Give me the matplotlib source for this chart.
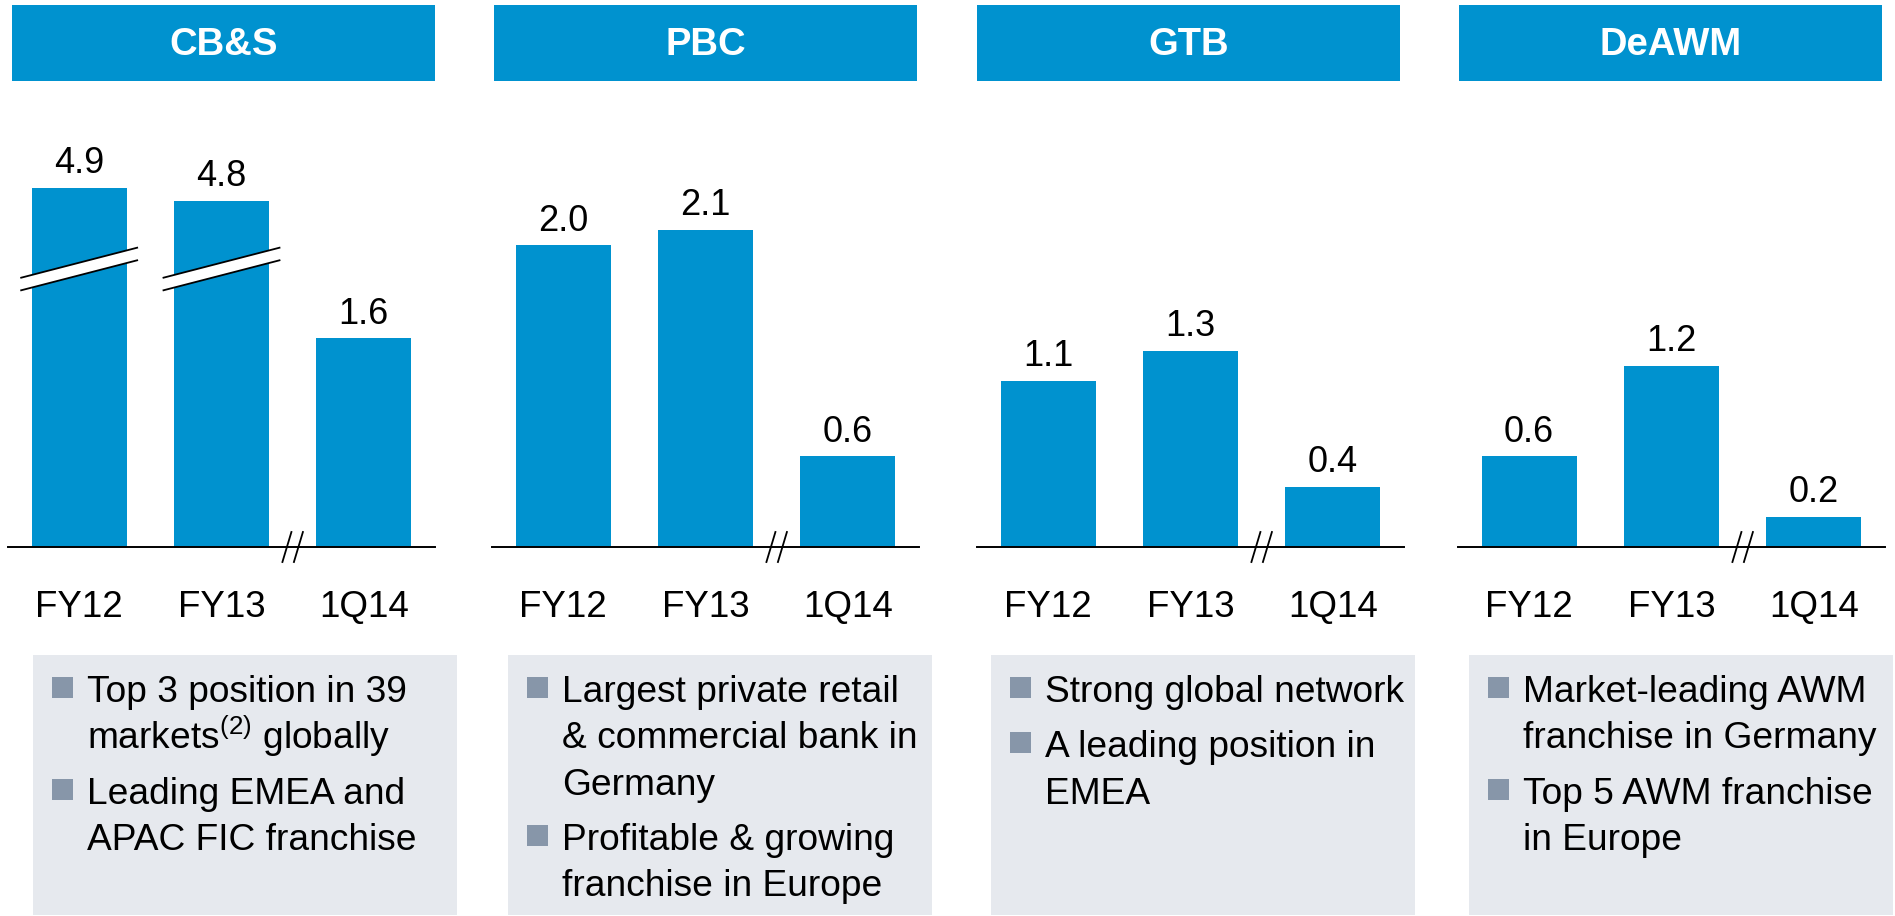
import numpy as np
import matplotlib
matplotlib.use("Agg")
import matplotlib.pyplot as plt
from matplotlib.patches import Rectangle, Polygon

plt.rcParams['font.family'] = ['Liberation Sans', 'DejaVu Sans']
plt.rcParams['mathtext.default'] = 'regular'

W, H, DPI = 1895, 916, 100

# data
segments = ['CB&S', 'PBC', 'GTB', 'DeAWM']
periods = ['FY12', 'FY13', '1Q14']
cbs = [4.9, 4.8, 1.6]
pbc = [2.0, 2.1, 0.6]
gtb = [1.1, 1.3, 0.4]
deawm = [0.6, 1.2, 0.2]
values = [cbs, pbc, gtb, deawm]

cbs_notes = [["Top 3 position in 39", "markets$^{(2)}$ globally"],
             ["Leading EMEA and", "APAC FIC franchise"]]
pbc_notes = [["Largest private retail", "& commercial bank in", "Germany"],
             ["Profitable & growing", "franchise in Europe"]]
gtb_notes = [["Strong global network"],
             ["A leading position in", "EMEA"]]
deawm_notes = [["Market-leading AWM", "franchise in Germany"],
               ["Top 5 AWM franchise", "in Europe"]]
notes = [cbs_notes, pbc_notes, gtb_notes, deawm_notes]

# CB&S FY bars are cut: values above break_above lose axis_cut
axis_cut = [2.15, 0, 0, 0]
break_above = 2.5

# style / layout (pixels)
BLUE = '#0092cf'
BOX = '#e6e9ee'
BULLET = '#8796a9'

header_left = [12, 494, 977, 1459]
header_w = 423
axis_left = [8, 492, 977, 1458]
axis_w = 427
box_left = [33, 508, 991, 1469]
box_w = 424
base_y, top_y = 547, 100
px_per_unit = [130.6, 151, 151, 151]


def fx(x):
    return x / W


def fy(y):
    return 1 - y / H


def break_mark(ax, xc, yc, ppx, ppy):
    hw = 58 / ppx
    rise = 15 / ppy
    gap = 6.3 / ppy
    xs = [xc - hw, xc + hw]
    lo = [yc - rise - gap, yc + rise - gap]
    hi = [yc - rise + gap, yc + rise + gap]
    ax.add_patch(Polygon([(xs[0], lo[0]), (xs[1], lo[1]), (xs[1], hi[1]), (xs[0], hi[0])],
                         closed=True, fc='white', ec='none', clip_on=False, zorder=3))
    ax.plot(xs, lo, color='black', lw=1.3, clip_on=False, zorder=4)
    ax.plot(xs, hi, color='black', lw=1.3, clip_on=False, zorder=4)


def axis_break(ax, xc, ppx, ppy):
    for s in (-5.75, 5.75):
        ax.plot([xc + (s - 4.5) / ppx, xc + (s + 4.5) / ppx], [-15 / ppy, 15 / ppy],
                color='black', lw=1.3, clip_on=False, zorder=4)


fig = plt.figure(figsize=(W / DPI, H / DPI), dpi=DPI)

for i, seg in enumerate(segments):
    # header
    hl = header_left[i]
    fig.add_artist(Rectangle((fx(hl), fy(81)), header_w / W, 76 / H,
                             transform=fig.transFigure, color=BLUE, lw=0))
    fig.text(fx(hl + header_w / 2), fy(55), seg, color='white', fontsize=27.5,
             fontweight='bold', ha='center', va='baseline')

    # bars
    ppy = px_per_unit[i]
    ppx = axis_w / 3
    ax = fig.add_axes([fx(axis_left[i]), fy(base_y), axis_w / W, (base_y - top_y) / H])
    ax.set_xlim(-0.5, 2.5)
    ax.set_ylim(0, (base_y - top_y) / ppy)
    ax.axis('off')
    x = np.arange(len(periods))
    vals = values[i]
    cut = axis_cut[i]
    shown = [v - cut if cut and v > break_above else v for v in vals]
    ax.bar(x, shown, width=0.667, color=BLUE, zorder=2)
    ax.axhline(0, color='black', lw=1.4, clip_on=False, zorder=3)
    axis_break(ax, 1.5, ppx, ppy)

    for xi, s, v, p in zip(x, shown, vals, periods):
        ax.annotate(f'{v:.1f}', (xi, s), xytext=(0, 10.4), textcoords='offset points',
                    ha='center', va='baseline', fontsize=26)
        ax.annotate(p, (xi, 0), xytext=(0, -50.4), textcoords='offset points',
                    ha='center', va='baseline', fontsize=26.5)
        if cut and v > break_above:
            break_mark(ax, xi, 278 / ppy, ppx, ppy)

    # text box
    bl = box_left[i]
    fig.add_artist(Rectangle((fx(bl), fy(915)), box_w / W, (915 - 655) / H,
                             transform=fig.transFigure, color=BOX, lw=0, zorder=0))
    y = 702
    for lines in notes[i]:
        fig.add_artist(Rectangle((fx(bl + 19), fy(y - 4)), 21 / W, 21 / H,
                                 transform=fig.transFigure, color=BULLET, lw=0))
        for ln in lines:
            fig.text(fx(bl + 54), fy(y), ln, fontsize=26.7, ha='left', va='baseline')
            y += 46.5
        y += 8.5

fig.savefig('out.png', dpi=DPI)
